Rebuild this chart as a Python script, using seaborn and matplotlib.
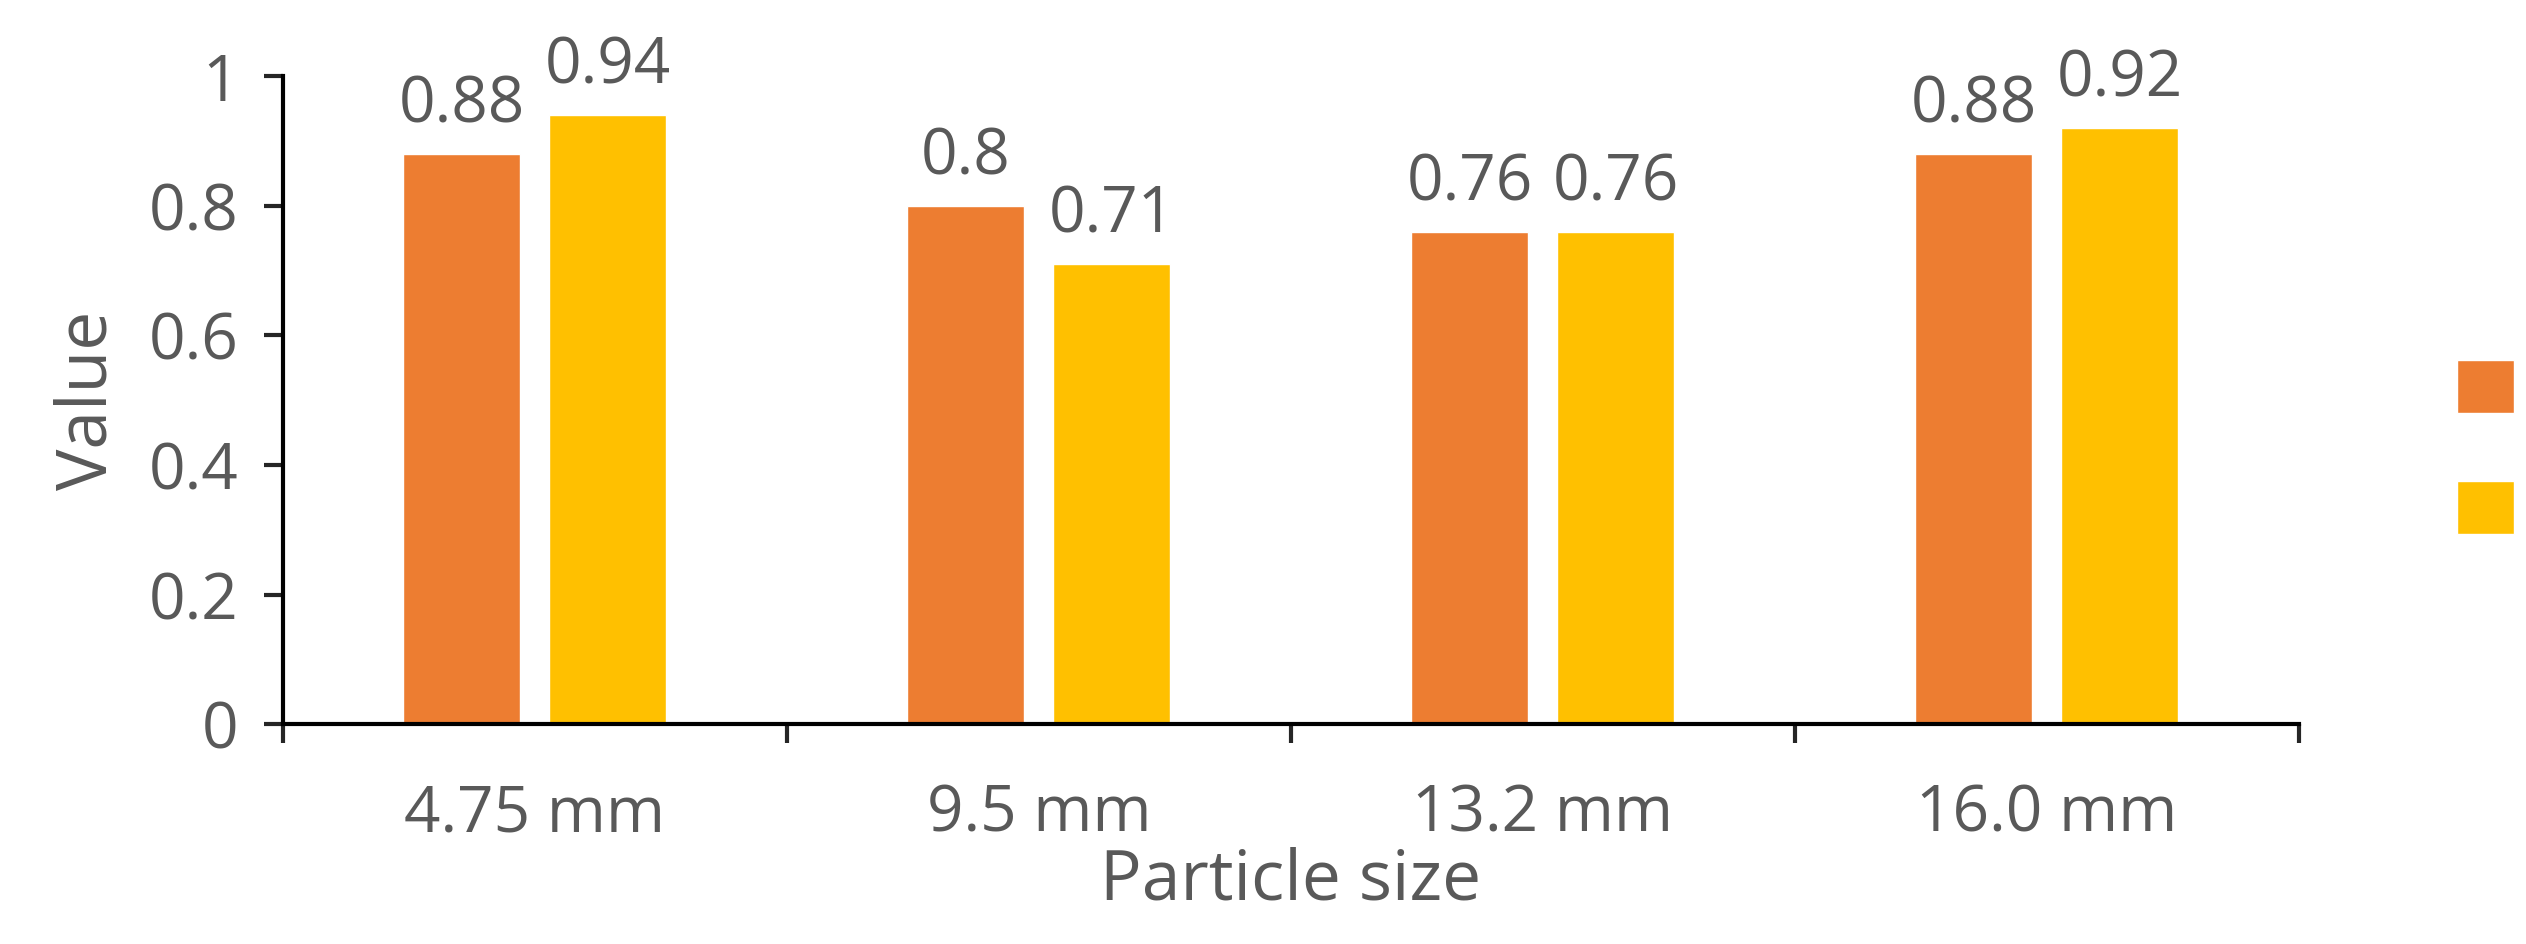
import matplotlib
matplotlib.use("Agg")
import matplotlib.pyplot as plt
import seaborn as sns
import pandas as pd
from matplotlib.ticker import FixedLocator

sizes = ["4.75 mm", "9.5 mm", "13.2 mm", "16.0 mm"]
p_vals = [0.88, 0.80, 0.76, 0.88]
r_vals = [0.94, 0.71, 0.76, 0.92]
p_labels = ["0.88", "0.8", "0.76", "0.88"]
r_labels = ["0.94", "0.71", "0.76", "0.92"]

df = pd.DataFrame({
    "size": sizes * 2,
    "value": p_vals + r_vals,
    "series": ["P"] * 4 + ["R"] * 4,
})

sns.set_style("white")
plt.rcParams["font.family"] = ["Open Sans", "DejaVu Sans"]
grey = "#595959"

fig = plt.figure(figsize=(25.26, 9.44), dpi=100)
ax = fig.add_axes([0.112, 0.233, 0.798, 0.686])
sns.barplot(data=df, x="size", y="value", hue="series",
            palette={"P": "#ED7D31", "R": "#FFC000"},
            width=0.58, gap=0.2, saturation=1, ax=ax, legend=True)

for cont, labs in zip(ax.containers, [p_labels, r_labels]):
    ax.bar_label(cont, labels=labs, padding=12, fontsize=46, color=grey)

ax.set_ylim(0, 1)
ax.set_xlim(-0.5, 3.5)
ax.set_yticks([0, 0.2, 0.4, 0.6, 0.8, 1.0])
ax.set_yticklabels(["0", "0.2", "0.4", "0.6", "0.8", "1"])
ax.tick_params(axis="y", labelsize=46, labelcolor=grey, length=14, width=3, direction="out", pad=18, left=True)
ax.tick_params(axis="x", which="major", labelsize=46, labelcolor=grey, length=0, pad=42)
ax.xaxis.set_minor_locator(FixedLocator([-0.5, 0.5, 1.5, 2.5, 3.5]))
ax.tick_params(axis="x", which="minor", length=14, width=3, direction="out", bottom=True)

for s in ["top", "right"]:
    ax.spines[s].set_visible(False)
for s in ["left", "bottom"]:
    ax.spines[s].set_color("black")
    ax.spines[s].set_linewidth(3)

ax.set_xlabel("Particle size", fontsize=50, color=grey, labelpad=0)
ax.set_ylabel("Value", fontsize=50, color=grey, labelpad=18)

leg = ax.legend(loc="center left", bbox_to_anchor=(1.05, 0.42), frameon=False,
                fontsize=46, handlelength=0.9, handleheight=0.9, labelspacing=0.9,
                handletextpad=0.4)
for t in leg.get_texts():
    t.set_color(grey)

fig.savefig("out.png", dpi=100)
